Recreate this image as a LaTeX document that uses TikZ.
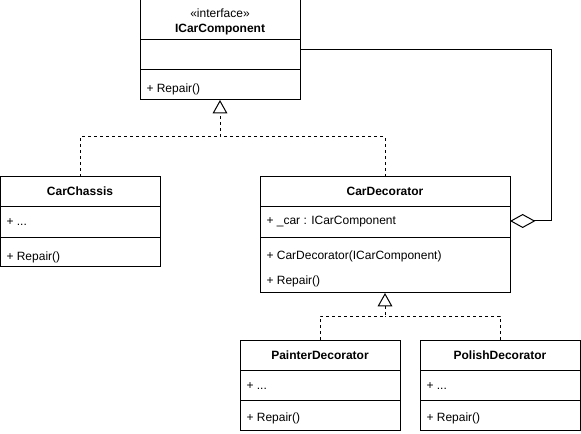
\documentclass[tikz,border=0pt]{standalone}
\usepackage{fontspec}
\setmainfont{Liberation Sans}
\usetikzlibrary{arrows.meta,calc,positioning}

\begin{document}
\begin{tikzpicture}[x=0.75pt,y=-0.75pt,line width=0.75pt,font=\fontsize{9}{11}\selectfont]
  % Styles for class boxes, their texts and the connectors
  \tikzset{
    cls/.style   = {draw, anchor=north west, inner sep=0pt, outer sep=0pt, minimum width=120pt},
    ttl/.style   = {inner sep=0pt, text height=8pt, text depth=2pt, font=\fontsize{9}{11}\selectfont\bfseries},
    stereo/.style= {inner sep=0pt, text height=8pt, text depth=2pt},
    mem/.style   = {anchor=west, inner sep=0pt, text height=8pt, text depth=2pt},
    dsh/.style   = {dash pattern=on 2.25pt off 2.25pt},
    real/.style  = {dsh, -{Triangle[open,length=10pt,width=11pt]}},
    aggr/.style  = {-{Diamond[open,length=19pt,width=10.5pt]}}
  }
  % page frame in px units
  \useasboundingbox (0,0) rectangle (581,434);

  % ========= Interface ICarComponent =========
  \node[cls, minimum height=75pt] (icar) at (140,0) {};
  \draw ($(icar.north west)+(0,40)$) -- ($(icar.north east)+(0,40)$);
  \draw ($(icar.north west)+(0,70)$) -- ($(icar.north east)+(0,70)$);
  \node[stereo] (icar-st) at ($(icar.north)+(0,14)$) {«interface»};
  \node[ttl] (icar-ttl) at ($(icar.north)+(0,29)$) {ICarComponent};
  \node[mem] (icar-op) at ($(icar.north west)+(6,89)$) {+ Repair()};

  % ========= CarChassis =========
  \node[cls, minimum height=67.5pt] (chassis) at (0,177) {};
  \draw ($(chassis.north west)+(0,30)$) -- ($(chassis.north east)+(0,30)$);
  \draw ($(chassis.north west)+(0,61)$) -- ($(chassis.north east)+(0,61)$);
  \node[ttl] (chassis-ttl) at ($(chassis.north)+(0,15)$) {CarChassis};
  \node[mem] (chassis-attr) at ($(chassis.north west)+(6,45)$) {+ ...};
  \node[mem] (chassis-op) at ($(chassis.north west)+(6,80)$) {+ Repair()};

  % ========= CarDecorator =========
  \node[cls, minimum width=187.5pt, minimum height=87pt] (decor) at (260,177) {};
  \draw ($(decor.north west)+(0,30)$) -- ($(decor.north east)+(0,30)$);
  \draw ($(decor.north west)+(0,61)$) -- ($(decor.north east)+(0,61)$);
  \node[ttl] (decor-ttl) at ($(decor.north)+(0,15)$) {CarDecorator};
  \node[mem] (car) at ($(decor.north west)+(6,44)$) {+ \_car : ICarComponent};
  \node[mem] (decor-ctor) at ($(decor.north west)+(6,79)$) {+ CarDecorator(ICarComponent)};
  \node[mem] (decor-op) at ($(decor.north west)+(6,104)$) {+ Repair()};

  % ========= PainterDecorator / PolishDecorator =========
  \node[cls, minimum height=67.5pt] (painter) at (240,340) {};
  \node[cls, minimum height=67.5pt] (polish) at (420,340) {};
  \foreach \c/\t in {painter/PainterDecorator, polish/PolishDecorator} {
    \draw ($(\c.north west)+(0,30)$) -- ($(\c.north east)+(0,30)$);
    \draw ($(\c.north west)+(0,60)$) -- ($(\c.north east)+(0,60)$);
    \node[ttl] (\c-ttl) at ($(\c.north)+(0,15)$) {\t};
    \node[mem] (\c-attr) at ($(\c.north west)+(6,45)$) {+ ...};
    \node[mem] (\c-op) at ($(\c.north west)+(6,77)$) {+ Repair()};
  }

  % realization arrows
  \coordinate (top-join) at ($(icar.south)+(0,37)$);
  \draw[real] (chassis.north) |- (top-join) -- (icar.south);
  \draw[dsh] (decor.north) |- (top-join);
  \coordinate (low-join) at ($(decor.south)+(0,23)$);
  \draw[real] (painter.north) |- (low-join) -- (decor.south);
  \draw[dsh] (polish.north) |- (low-join);

  % aggregation ICarComponent <>-- CarDecorator
  \draw[aggr] (icar.east) -- ++(251,0) |- (decor.east |- car);
\end{tikzpicture}
\end{document}
